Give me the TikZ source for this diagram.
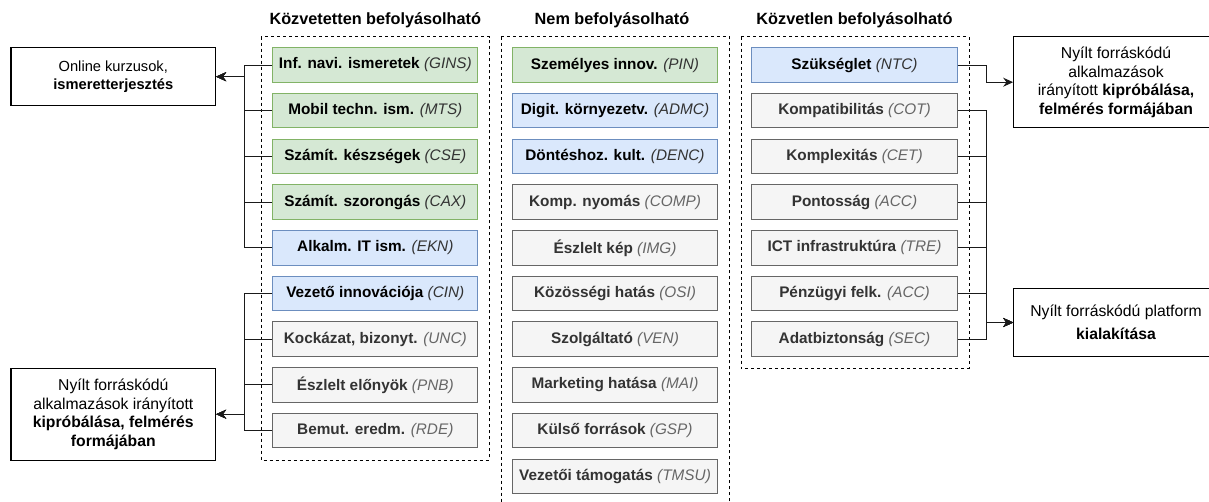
\documentclass[tikz,border=0pt]{standalone}
\usepackage{fontspec}
\setmainfont{Liberation Sans}
\usetikzlibrary{arrows.meta}

\definecolor{grnfill}{HTML}{D5E8D4}
\definecolor{grnline}{HTML}{82B366}
\definecolor{blufill}{HTML}{DAE8FC}
\definecolor{bluline}{HTML}{6C8EBF}
\definecolor{gryfill}{HTML}{F5F5F5}
\definecolor{gryline}{HTML}{666666}
\definecolor{grytext}{HTML}{333333}
\definecolor{abkgray}{HTML}{666666}
\definecolor{linkcol}{HTML}{1A1A1A}

\newcommand{\abk}[1]{{\mdseries\itshape\color{grytext}(#1)}}
\newcommand{\abkg}[1]{{\mdseries\itshape\color{abkgray}(#1)}}

\tikzset{
  factor/.style={draw, line width=0.75pt, minimum width=154pt, minimum height=25.9pt, inner sep=0pt, font=\fontsize{11.5}{13}\selectfont\bfseries},
  grnbox/.style={factor, fill=grnfill, draw=grnline},
  blubox/.style={factor, fill=blufill, draw=bluline},
  grybox/.style={factor, fill=gryfill, draw=gryline, text=grytext},
  group/.style={draw=black, line width=0.75pt, dash pattern=on 2.25pt off 2.25pt},
  grouptitle/.style={font=\fontsize{12.2}{14}\selectfont\bfseries},
  outbox/.style={draw=black, fill=white, line width=0.8pt, minimum width=153.5pt, align=center, inner sep=0pt, font=\fontsize{11.8}{14}\selectfont},
  link/.style={draw=linkcol, line width=0.75pt},
  arr/.style={link, -{Stealth[length=7.5pt,width=6.75pt,inset=2.5pt]}}
}

\begin{document}
\begin{tikzpicture}[x=0.75pt,y=-0.75pt]
\useasboundingbox (0,0) rectangle (1209,501);

\draw[group] (261,36.7) rectangle (489,460);
\draw[group] (501,36.7) rectangle (729,512);
\draw[group] (741,36.7) rectangle (969,368.3);

\node[grouptitle] (titind) at (375.3,20) {Közvetetten befolyásolható};
\node[grouptitle] (titnon) at (612,20) {Nem befolyásolható};
\node[grouptitle] (titdir) at (854.5,20) {Közvetlen befolyásolható};

\node[grnbox] (gins) at (375.3,65) {Inf. navi. ismeretek \abk{GINS}};
\node[grnbox] (mts) at (375.3,110.7) {Mobil techn. ism. \abk{MTS}};
\node[grnbox] (cse) at (375.3,156.4) {Számít. készségek \abk{CSE}};
\node[grnbox] (cax) at (375.3,202.1) {Számít. szorongás \abk{CAX}};
\node[blubox] (ekn) at (375.3,247.8) {Alkalm. IT ism. \abk{EKN}};
\node[blubox] (cin) at (375.3,293.5) {Vezető innovációja \abk{CIN}};
\node[grybox] (unc) at (375.3,339.2) {Kockázat, bizonyt. \abkg{UNC}};
\node[grybox] (pnb) at (375.3,384.9) {Észlelt előnyök \abkg{PNB}};
\node[grybox] (rde) at (375.3,430.6) {Bemut. eredm. \abkg{RDE}};

\node[grnbox] (pin) at (615,65) {Személyes innov. \abk{PIN}};
\node[blubox] (admc) at (615,110.7) {Digit. környezetv. \abk{ADMC}};
\node[blubox] (denc) at (615,156.4) {Döntéshoz. kult. \abk{DENC}};
\node[grybox] (comp) at (615,202.1) {Komp. nyomás \abkg{COMP}};
\node[grybox] (img) at (615,247.8) {Észlelt kép \abkg{IMG}};
\node[grybox] (osi) at (615,293.5) {Közösségi hatás \abkg{OSI}};
\node[grybox] (ven) at (615,339.2) {Szolgáltató \abkg{VEN}};
\node[grybox] (mai) at (615,384.9) {Marketing hatása \abkg{MAI}};
\node[grybox] (gsp) at (615,430.6) {Külső források \abkg{GSP}};
\node[grybox] (tmsu) at (615,476.3) {Vezetői támogatás \abkg{TMSU}};

\node[blubox] (ntc) at (854.5,65) {Szükséglet \abk{NTC}};
\node[grybox] (cot) at (854.5,110.7) {Kompatibilitás \abkg{COT}};
\node[grybox] (cet) at (854.5,156.4) {Komplexitás \abkg{CET}};
\node[grybox] (acc) at (854.5,202.1) {Pontosság \abkg{ACC}};
\node[grybox] (tre) at (854.5,247.8) {ICT infrastruktúra \abkg{TRE}};
\node[grybox] (fin) at (854.5,293.5) {Pénzügyi felk. \abkg{ACC}};
\node[grybox] (sec) at (854.5,339.2) {Adatbiztonság \abkg{SEC}};

\node[outbox, minimum height=43.5pt, font=\fontsize{11}{14}\selectfont] (kurz) at (113.3,76.7) {Online kurzusok,\\\textbf{ismeretterjesztés}};
\node[outbox, minimum height=68.8pt] (trialL) at (113.3,414.2) {Nyílt forráskódú\\alkalmazások irányított\\\textbf{kipróbálása, felmérés}\\\textbf{formájában}};
\node[outbox, minimum height=68.25pt] (trialR) at (1116,82.2) {Nyílt forráskódú\\alkalmazások\\irányított \textbf{kipróbálása,}\\\textbf{felmérés formájában}};
\node[outbox, minimum height=51.3pt] (platf) at (1116,322.5) {Nyílt forráskódú platform\\[3.5pt]\textbf{kialakítása}};

\coordinate (jl1) at (244.3,76.7);
\coordinate (jl2) at (244.3,414.2);
\coordinate (jr1) at (986,82.2);
\coordinate (jr2) at (986,322.5);

\draw[arr] (gins.west) -| (jl1) -- (kurz.east);
\draw[arr] (mts.west) -| (jl1) -- (kurz.east);
\draw[arr] (cse.west) -| (jl1) -- (kurz.east);
\draw[arr] (cax.west) -| (jl1) -- (kurz.east);
\draw[arr] (ekn.west) -| (jl1) -- (kurz.east);

\draw[arr] (cin.west) -| (jl2) -- (trialL.east);
\draw[arr] (unc.west) -| (jl2) -- (trialL.east);
\draw[arr] (pnb.west) -| (jl2) -- (trialL.east);
\draw[arr] (rde.west) -| (jl2) -- (trialL.east);

\draw[arr] (ntc.east) -| (jr1) -- (trialR.west);

\draw[arr] (cot.east) -| (jr2) -- (platf.west);
\draw[arr] (cet.east) -| (jr2) -- (platf.west);
\draw[arr] (acc.east) -| (jr2) -- (platf.west);
\draw[arr] (tre.east) -| (jr2) -- (platf.west);
\draw[arr] (fin.east) -| (jr2) -- (platf.west);
\draw[arr] (sec.east) -| (jr2) -- (platf.west);
\end{tikzpicture}
\end{document}
